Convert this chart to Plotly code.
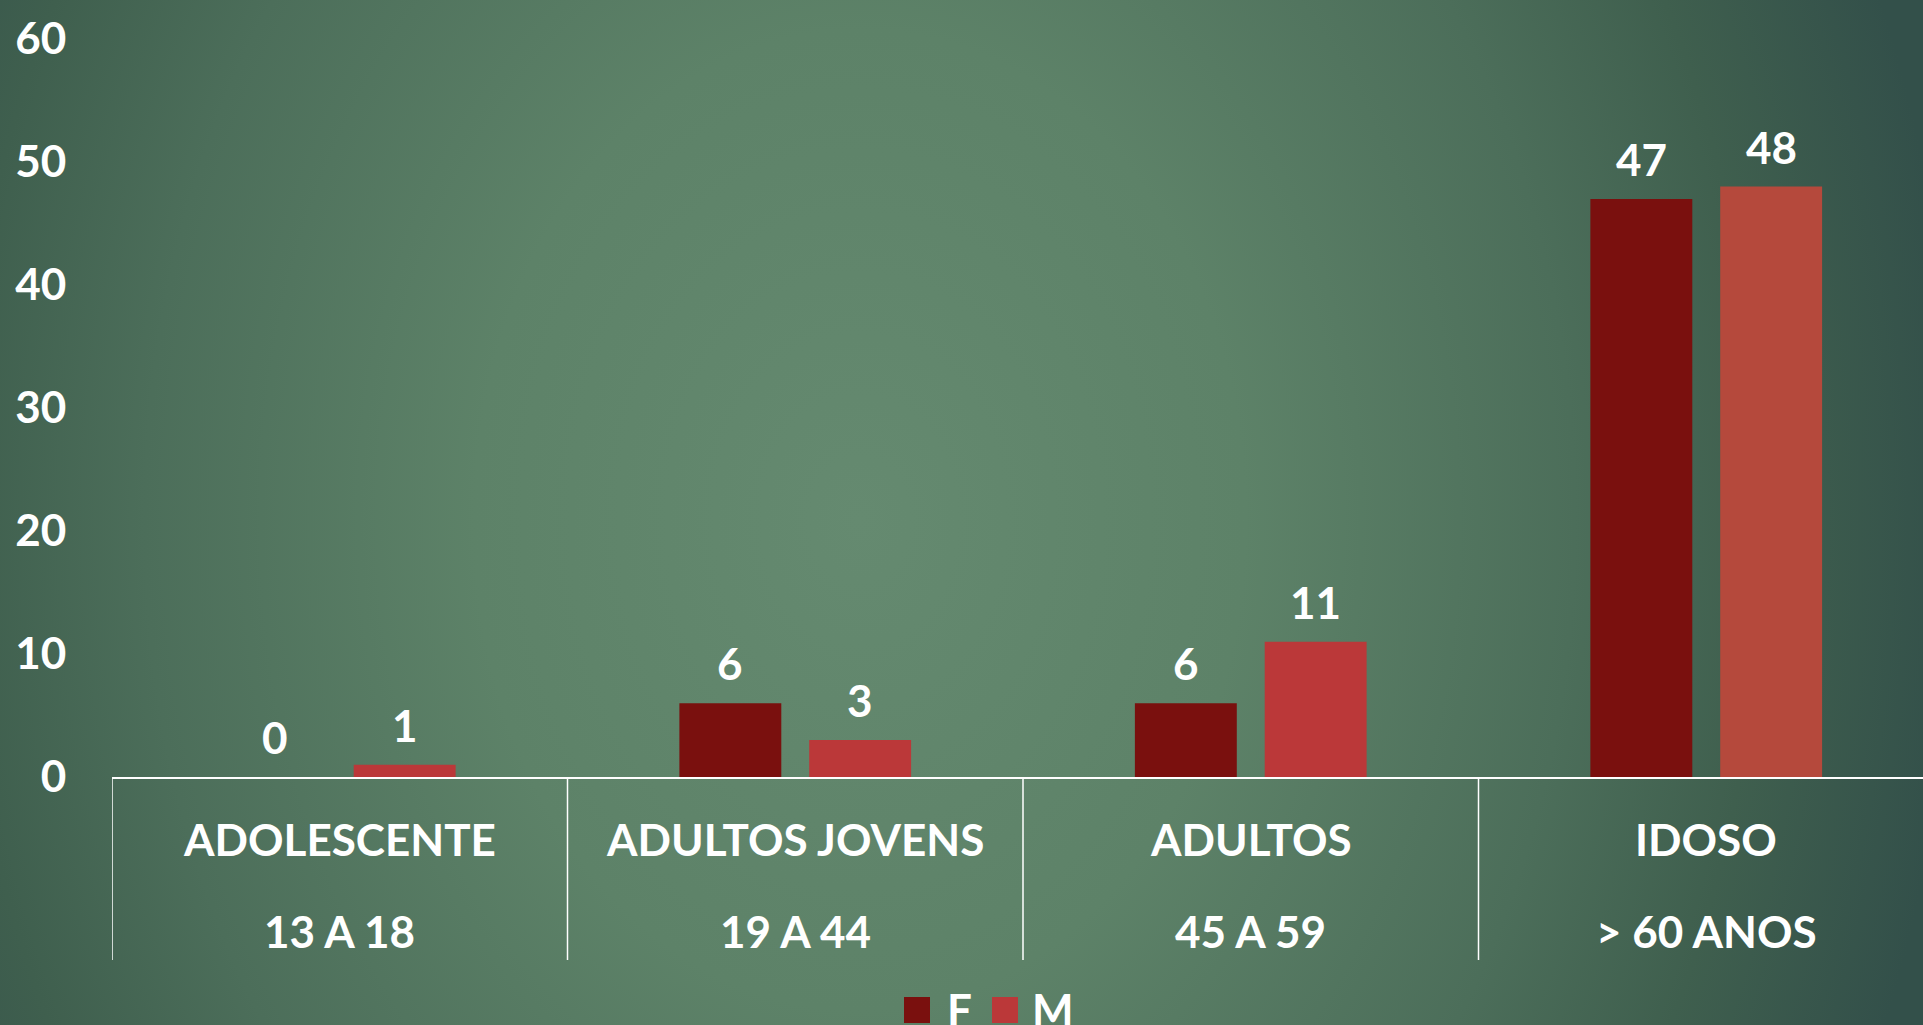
import base64
import plotly.graph_objects as go

# ---------------- data ----------------
age_groups = ["ADOLESCENTE", "ADULTOS JOVENS", "ADULTOS", "IDOSO"]
age_ranges = ["13 A 18", "19 A 44", "45 A 59", "> 60 ANOS"]
series_names = ["F", "M"]
values_f = [0, 6, 6, 47]
values_m = [1, 3, 11, 48]
y_ticks = [0, 10, 20, 30, 40, 50, 60]

# ---------------- style ----------------
W, H = 1923, 1025
ML, MR, MT, MB = 112, 0, 39, 248
PW = W - ML - MR
PH = H - MT - MB
CAT_PX = 455.5
COLOR_F = "#7A100E"
COLORS_M = ["#BB3839", "#BB3839", "#BB3839", "#B5493C"]
BARGAP = 0.43
BARGROUPGAP = 0.215
FONT = "Lato"
WHITE = "#FFFFFF"
FS = 44

svg = f'''<svg xmlns="http://www.w3.org/2000/svg" width="{W}" height="{H}" viewBox="0 0 {W} {H}" preserveAspectRatio="none">
<defs><radialGradient id="g" gradientUnits="userSpaceOnUse" cx="0" cy="0" r="1" gradientTransform="translate(860,520) scale(1100,1400)">
<stop offset="0" stop-color="#658A70"/>
<stop offset="0.35" stop-color="#5D8268"/>
<stop offset="0.65" stop-color="#4C6E5A"/>
<stop offset="0.82" stop-color="#3F5F4E"/>
<stop offset="1" stop-color="#33504A"/>
</radialGradient></defs>
<rect width="{W}" height="{H}" fill="url(#g)"/></svg>'''
bg_src = "data:image/svg+xml;base64," + base64.b64encode(svg.encode()).decode()

fig = go.Figure()
fig.add_trace(go.Bar(name=series_names[0], x=age_groups, y=values_f,
                     marker=dict(color=COLOR_F, line=dict(width=0)), showlegend=False))
fig.add_trace(go.Bar(name=series_names[1], x=age_groups, y=values_m,
                     marker=dict(color=COLORS_M, line=dict(width=0)), showlegend=False))

offset = (1 - BARGAP) / 4
annotations = []
# value labels
for vals, sgn in ((values_f, -1), (values_m, 1)):
    for i, v in enumerate(vals):
        annotations.append(dict(x=i + sgn * offset, y=v, xref="x", yref="y",
                                text=str(v), showarrow=False, yanchor="bottom",
                                yshift=12, font=dict(family=FONT, size=FS, color=WHITE, weight="bold")))
# category labels (two lines)
for i, (g, r) in enumerate(zip(age_groups, age_ranges)):
    annotations.append(dict(x=i, y=0, xref="x", yref="paper", text=g, showarrow=False,
                            yanchor="middle", yshift=-62,
                            font=dict(family=FONT, size=FS, color=WHITE, weight="bold")))
    annotations.append(dict(x=i, y=0, xref="x", yref="paper", text=r, showarrow=False,
                            yanchor="middle", yshift=-154,
                            font=dict(family=FONT, size=FS, color=WHITE, weight="bold")))

# manual legend (large swatches)
def px_x(p):
    return (p - ML) / PW

def px_y(p):
    return (MT + PH - p) / PH

shapes = []
legend_items = [(series_names[0], COLOR_F, 904, 945), (series_names[1], COLORS_M[0], 992, 1030)]
for name, col, sx, tx in legend_items:
    shapes.append(dict(type="rect", xref="paper", yref="paper",
                       x0=px_x(sx), x1=px_x(sx + 26), y0=px_y(1023), y1=px_y(997),
                       fillcolor=col, line=dict(width=0)))
    annotations.append(dict(x=px_x(tx), y=px_y(1009), xref="paper", yref="paper", text=name,
                            showarrow=False, xanchor="left", yanchor="middle",
                            font=dict(family=FONT, size=FS, color=WHITE, weight="bold")))

# category divider lines
for k in range(len(age_groups) + 1):
    shapes.append(dict(type="line", xref="x", yref="paper", x0=k - 0.5, x1=k - 0.5,
                       y0=0, y1=px_y(960), line=dict(color=WHITE, width=1.5)))

fig.update_layout(
    width=W, height=H,
    margin=dict(l=ML, r=MR, t=MT, b=MB, pad=0),
    paper_bgcolor="#4E7160", plot_bgcolor="rgba(0,0,0,0)",
    barmode="group", bargap=BARGAP, bargroupgap=BARGROUPGAP,
    showlegend=False,
    images=[dict(source=bg_src, xref="paper", yref="paper",
                 x=-ML / PW, y=1 + MT / PH, sizex=W / PW, sizey=H / PH,
                 xanchor="left", yanchor="top", sizing="stretch", layer="below")],
    xaxis=dict(range=[-0.5, -0.5 + PW / CAT_PX], showgrid=False, zeroline=False,
               showline=True, linecolor=WHITE, linewidth=2, showticklabels=False, ticks=""),
    yaxis=dict(range=[0, 60], tickvals=y_ticks, showgrid=False, zeroline=False, showline=False,
               ticks="outside", ticklen=36, tickcolor="rgba(0,0,0,0)",
               tickfont=dict(family=FONT, size=FS, color=WHITE, weight="bold")),
    annotations=annotations, shapes=shapes,
)

fig.write_html("out.html", config={"displayModeBar": False},
               post_script="document.body.style.margin='0';document.body.style.overflow='hidden';")
